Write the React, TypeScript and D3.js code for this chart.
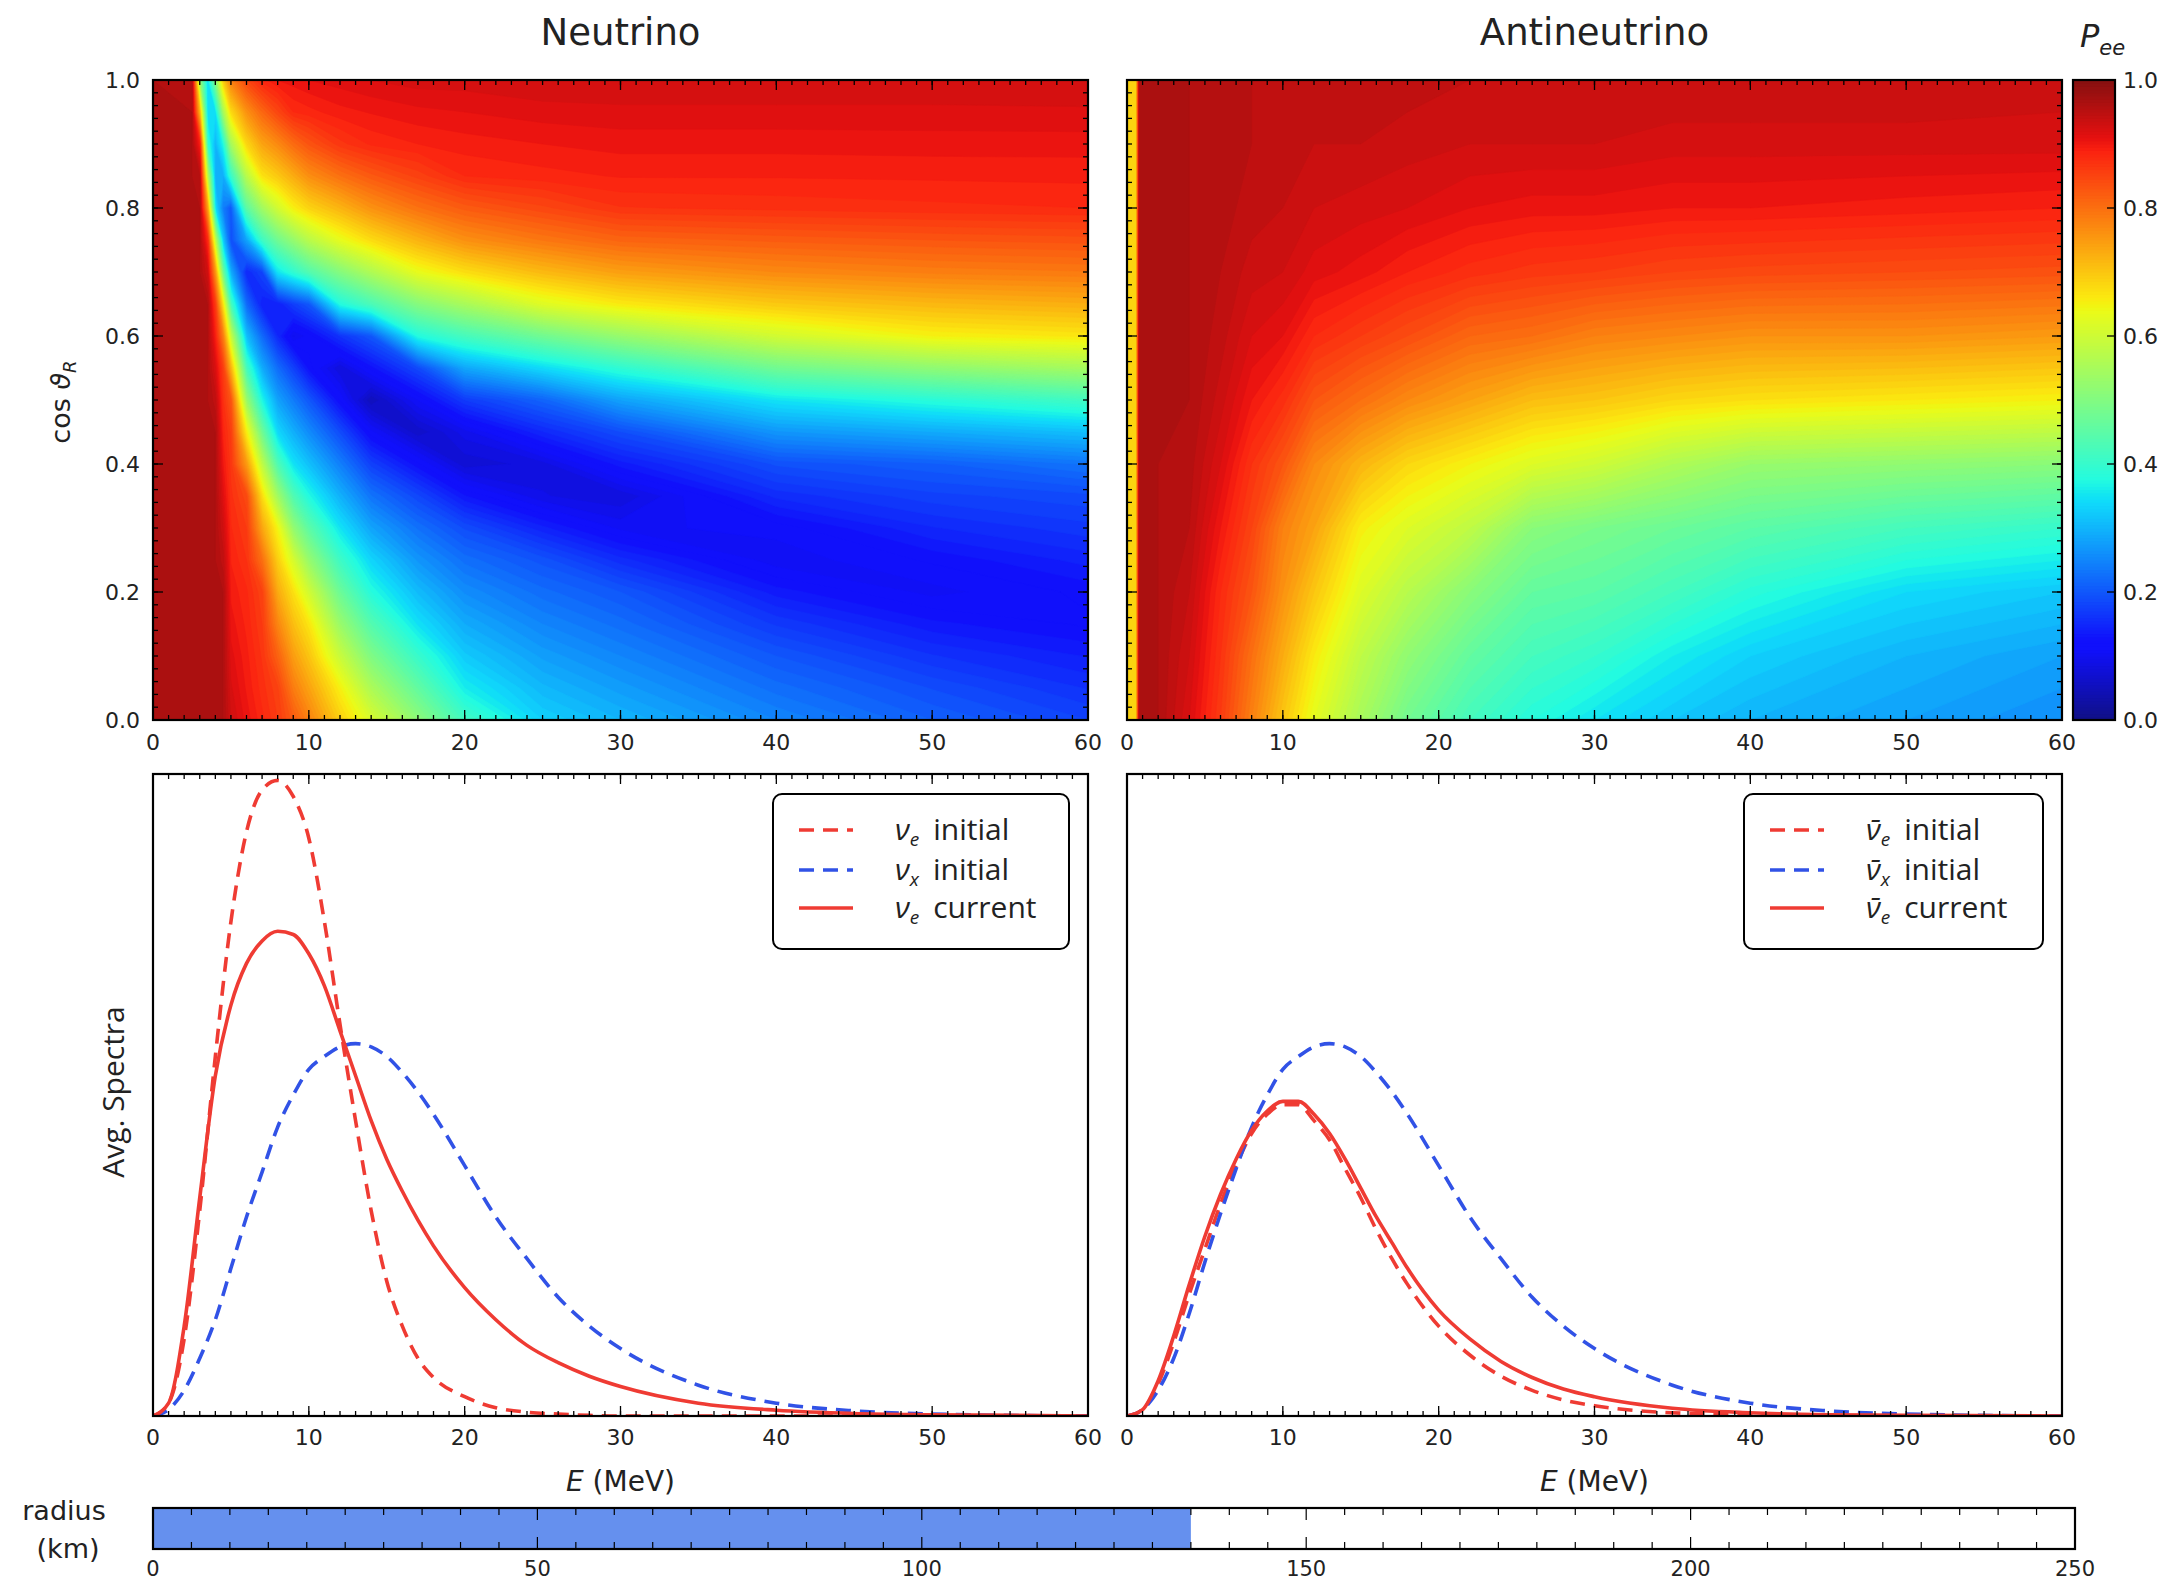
import React from "react";
import * as d3 from "d3";

const W = 2176;
const H = 1583;

const NU_E_COLS = [0, 2.5, 3, 3.5, 4, 4.5, 5, 6, 7, 8, 9, 10, 12, 14, 17, 20, 25, 30, 40, 50, 60];
const NU_COS_ROWS = [0, 0.05, 0.1, 0.15, 0.2, 0.25, 0.3, 0.35, 0.4, 0.45, 0.5, 0.55, 0.6, 0.65, 0.7, 0.75, 0.8, 0.85, 0.9, 0.95, 1.0];
// one profile per energy column, values from cos=0 up to cos=1
const NU_PEE = [
  [0.96, 0.96, 0.96, 0.96, 0.96, 0.96, 0.96, 0.96, 0.96, 0.96, 0.96, 0.96, 0.96, 0.96, 0.96, 0.96, 0.96, 0.96, 0.96, 0.96, 0.96],
  [0.96, 0.96, 0.96, 0.96, 0.96, 0.96, 0.96, 0.96, 0.96, 0.96, 0.96, 0.96, 0.96, 0.96, 0.96, 0.96, 0.96, 0.96, 0.96, 0.96, 0.955],
  [0.96, 0.96, 0.96, 0.96, 0.96, 0.96, 0.96, 0.96, 0.96, 0.96, 0.96, 0.96, 0.96, 0.96, 0.96, 0.96, 0.96, 0.95, 0.89, 0.71, 0.52],
  [0.96, 0.96, 0.96, 0.96, 0.96, 0.96, 0.96, 0.96, 0.96, 0.96, 0.96, 0.96, 0.96, 0.96, 0.93, 0.88, 0.74, 0.57, 0.4, 0.34, 0.34],
  [0.96, 0.96, 0.96, 0.96, 0.96, 0.96, 0.96, 0.96, 0.96, 0.96, 0.945, 0.92, 0.89, 0.857, 0.75, 0.58, 0.345, 0.29, 0.3, 0.34, 0.5],
  [0.96, 0.96, 0.96, 0.96, 0.96, 0.945, 0.93, 0.915, 0.9, 0.886, 0.871, 0.856, 0.78, 0.66, 0.47, 0.32, 0.24, 0.29, 0.37, 0.54, 0.69],
  [0.93, 0.922, 0.914, 0.905, 0.897, 0.889, 0.881, 0.873, 0.865, 0.857, 0.83, 0.72, 0.59, 0.42, 0.29, 0.19, 0.2, 0.4, 0.545, 0.675, 0.78],
  [0.906, 0.898, 0.893, 0.887, 0.882, 0.87, 0.86, 0.843, 0.75, 0.654, 0.53, 0.42, 0.31, 0.22, 0.15, 0.28, 0.45, 0.57, 0.68, 0.76, 0.847],
  [0.883, 0.875, 0.868, 0.86, 0.852, 0.8, 0.737, 0.673, 0.58, 0.476, 0.37, 0.29, 0.22, 0.14, 0.18, 0.41, 0.54, 0.667, 0.74, 0.81, 0.885],
  [0.86, 0.852, 0.816, 0.774, 0.732, 0.69, 0.646, 0.54, 0.433, 0.337, 0.28, 0.223, 0.15, 0.14, 0.35, 0.477, 0.604, 0.697, 0.77, 0.848, 0.9],
  [0.823, 0.785, 0.747, 0.709, 0.67, 0.61, 0.523, 0.435, 0.349, 0.294, 0.239, 0.176, 0.098, 0.173, 0.394, 0.525, 0.653, 0.73, 0.805, 0.88, 0.905],
  [0.779, 0.741, 0.702, 0.664, 0.603, 0.527, 0.451, 0.374, 0.312, 0.256, 0.2, 0.125, 0.114, 0.2, 0.438, 0.572, 0.684, 0.764, 0.832, 0.886, 0.91],
  [0.69, 0.652, 0.592, 0.531, 0.471, 0.41, 0.35, 0.296, 0.243, 0.187, 0.119, 0.081, 0.161, 0.376, 0.504, 0.632, 0.721, 0.799, 0.866, 0.896, 0.915],
  [0.614, 0.556, 0.497, 0.439, 0.38, 0.334, 0.282, 0.231, 0.175, 0.113, 0.05, 0.125, 0.2, 0.428, 0.559, 0.675, 0.76, 0.826, 0.882, 0.901, 0.92],
  [0.515, 0.458, 0.402, 0.347, 0.307, 0.267, 0.228, 0.182, 0.122, 0.062, 0.11, 0.185, 0.376, 0.505, 0.634, 0.723, 0.798, 0.854, 0.89, 0.907, 0.925],
  [0.416, 0.36, 0.323, 0.29, 0.258, 0.226, 0.188, 0.131, 0.073, 0.095, 0.17, 0.285, 0.421, 0.551, 0.672, 0.762, 0.824, 0.88, 0.895, 0.91, 0.925],
  [0.33, 0.303, 0.277, 0.25, 0.224, 0.195, 0.143, 0.091, 0.085, 0.149, 0.214, 0.34, 0.477, 0.622, 0.715, 0.791, 0.847, 0.886, 0.9, 0.915, 0.93],
  [0.3, 0.275, 0.25, 0.225, 0.2, 0.154, 0.107, 0.081, 0.135, 0.189, 0.28, 0.391, 0.527, 0.659, 0.745, 0.813, 0.869, 0.891, 0.904, 0.917, 0.93],
  [0.25, 0.225, 0.2, 0.168, 0.135, 0.103, 0.114, 0.153, 0.192, 0.267, 0.35, 0.477, 0.604, 0.697, 0.77, 0.823, 0.873, 0.891, 0.904, 0.917, 0.93],
  [0.21, 0.189, 0.161, 0.133, 0.106, 0.122, 0.149, 0.176, 0.208, 0.289, 0.383, 0.517, 0.65, 0.717, 0.783, 0.83, 0.877, 0.892, 0.905, 0.917, 0.93],
  [0.18, 0.159, 0.139, 0.118, 0.123, 0.144, 0.166, 0.187, 0.232, 0.311, 0.415, 0.546, 0.663, 0.728, 0.789, 0.835, 0.88, 0.893, 0.905, 0.918, 0.93],
];

const ANU_E_COLS = [0, 0.6, 0.8, 2, 4, 6, 8, 10, 12, 15, 18, 22, 26, 30, 35, 40, 50, 60];
const ANU_COS_ROWS = [0, 0.1, 0.2, 0.3, 0.4, 0.5, 0.6, 0.7, 0.8, 0.9, 1.0];
const ANU_PEE = [
  [0.68, 0.68, 0.68, 0.68, 0.68, 0.68, 0.68, 0.68, 0.68, 0.68, 0.68],
  [0.68, 0.68, 0.68, 0.68, 0.68, 0.68, 0.68, 0.68, 0.68, 0.68, 0.68],
  [0.96, 0.96, 0.96, 0.96, 0.96, 0.96, 0.96, 0.96, 0.96, 0.96, 0.96],
  [0.96, 0.96, 0.96, 0.96, 0.96, 0.96, 0.96, 0.96, 0.96, 0.96, 0.96],
  [0.92, 0.93, 0.94, 0.95, 0.955, 0.96, 0.96, 0.96, 0.96, 0.96, 0.96],
  [0.86, 0.87, 0.88, 0.9, 0.92, 0.935, 0.945, 0.95, 0.955, 0.955, 0.955],
  [0.78, 0.8, 0.83, 0.85, 0.87, 0.9, 0.92, 0.935, 0.945, 0.95, 0.95],
  [0.7, 0.73, 0.76, 0.78, 0.83, 0.875, 0.91, 0.93, 0.94, 0.945, 0.95],
  [0.63, 0.66, 0.7, 0.74, 0.77, 0.83, 0.88, 0.915, 0.93, 0.94, 0.95],
  [0.55, 0.58, 0.62, 0.655, 0.72, 0.8, 0.86, 0.905, 0.925, 0.94, 0.945],
  [0.48, 0.52, 0.57, 0.62, 0.68, 0.77, 0.84, 0.89, 0.92, 0.935, 0.945],
  [0.42, 0.46, 0.51, 0.58, 0.65, 0.74, 0.81, 0.875, 0.91, 0.93, 0.94],
  [0.38, 0.42, 0.46, 0.51, 0.62, 0.71, 0.8, 0.865, 0.905, 0.93, 0.94],
  [0.35, 0.4, 0.45, 0.49, 0.6, 0.7, 0.78, 0.86, 0.905, 0.93, 0.94],
  [0.32, 0.36, 0.42, 0.47, 0.56, 0.68, 0.77, 0.85, 0.9, 0.925, 0.94],
  [0.3, 0.33, 0.385, 0.45, 0.53, 0.67, 0.76, 0.845, 0.9, 0.925, 0.94],
  [0.28, 0.3, 0.34, 0.42, 0.52, 0.66, 0.76, 0.84, 0.895, 0.925, 0.94],
  [0.26, 0.28, 0.32, 0.4, 0.51, 0.65, 0.75, 0.835, 0.89, 0.925, 0.935],
];

// ---------- Spectra data (arbitrary units) ----------
const SPEC_E = [0, 1, 2, 3, 4, 5, 6, 7, 8, 9, 10, 11, 12, 13, 14, 15, 16, 17, 18, 20, 22, 24, 26, 28, 30, 35, 40, 45, 50, 60];
const NUE_INITIAL = [0, 0.02, 0.12, 0.32, 0.56, 0.77, 0.91, 0.975, 0.99, 0.965, 0.9, 0.77, 0.61, 0.46, 0.32, 0.21, 0.14, 0.09, 0.06, 0.03, 0.013, 0.006, 0.003, 0.001, 0, 0, 0, 0, 0, 0];
const NUX_INITIAL = [0, 0.01, 0.04, 0.09, 0.15, 0.23, 0.31, 0.38, 0.45, 0.5, 0.54, 0.56, 0.575, 0.58, 0.575, 0.56, 0.535, 0.505, 0.47, 0.39, 0.31, 0.245, 0.185, 0.14, 0.105, 0.048, 0.02, 0.008, 0.003, 0];
const NUE_CURRENT = [0, 0.02, 0.14, 0.34, 0.53, 0.64, 0.705, 0.74, 0.755, 0.75, 0.72, 0.67, 0.6, 0.53, 0.46, 0.4, 0.35, 0.305, 0.265, 0.2, 0.15, 0.11, 0.083, 0.062, 0.046, 0.02, 0.009, 0.004, 0.002, 0];
const ANUE_INITIAL = [0, 0.01, 0.05, 0.115, 0.19, 0.26, 0.33, 0.39, 0.44, 0.47, 0.485, 0.485, 0.46, 0.43, 0.385, 0.34, 0.29, 0.245, 0.205, 0.14, 0.095, 0.062, 0.04, 0.025, 0.016, 0.005, 0.002, 0, 0, 0];
const ANUX_INITIAL = [0, 0.01, 0.04, 0.09, 0.16, 0.24, 0.315, 0.385, 0.45, 0.5, 0.54, 0.56, 0.575, 0.58, 0.575, 0.56, 0.535, 0.505, 0.47, 0.39, 0.31, 0.245, 0.185, 0.14, 0.105, 0.048, 0.02, 0.008, 0.003, 0];
const ANUE_CURRENT = [0, 0.01, 0.055, 0.125, 0.205, 0.28, 0.345, 0.4, 0.445, 0.475, 0.49, 0.49, 0.47, 0.44, 0.4, 0.355, 0.31, 0.27, 0.23, 0.165, 0.12, 0.085, 0.06, 0.042, 0.03, 0.012, 0.005, 0.002, 0.001, 0];

// ---------- Ticks & misc ----------
const E_TICKS = [0, 10, 20, 30, 40, 50, 60];
const COS_TICKS = [0, 0.2, 0.4, 0.6, 0.8, 1.0];
const CBAR_TICKS = [0, 0.2, 0.4, 0.6, 0.8, 1.0];
const RADIUS_TICKS = [0, 50, 100, 150, 200, 250];
const RADIUS_CURRENT = 135;

// ---------- Layout ----------
const TOP = { y0: 80, y1: 720 };
const BOT = { y0: 774, y1: 1416 };
const LEFT = { x0: 153, x1: 1088 };
const RIGHT = { x0: 1127, x1: 2062 };
const CBAR = { x0: 2073, x1: 2115 };
const RBAR = { x0: 153, x1: 2075, y0: 1508, y1: 1549 };

const RED = "#ef3b33";
const BLUE = "#3152e6";
const TICK_FONT = "DejaVu Sans, Verdana, sans-serif";
const LEG_FONT = "Open Sans, Noto Sans, sans-serif";

// jet colormap
const jetR = d3.scaleLinear().domain([0, 0.35, 0.66, 0.89, 1]).range([0, 0, 1, 1, 0.5]).clamp(true);
const jetG = d3.scaleLinear().domain([0, 0.125, 0.375, 0.64, 0.91, 1]).range([0, 0, 1, 1, 0, 0]).clamp(true);
const jetB = d3.scaleLinear().domain([0, 0.11, 0.34, 0.65, 1]).range([0.5, 1, 1, 0, 0]).clamp(true);
function jet(v: number) {
  const f = (c: number) => Math.round(c * 255 * 0.92 + 16);
  return d3.rgb(f(jetR(v)), f(jetG(v)), f(jetB(v))).formatHex();
}

function Heatmap({ id, box, eCols, cosRows, profiles }: any) {
  const xs = d3.scaleLinear().domain([0, 60]).range([box.x0, box.x1]);
  const ys = d3.scaleLinear().domain([0, 1]).range([box.y1, box.y0]);
  const nx = eCols.length;
  const ny = cosRows.length;
  const values: number[] = new Array(nx * ny);
  for (let j = 0; j < ny; j++) for (let i = 0; i < nx; i++) values[j * nx + i] = profiles[i][j];
  const gx = d3.scaleLinear().domain(eCols.map((_: number, i: number) => i + 0.5)).range(eCols).clamp(true);
  const gy = d3.scaleLinear().domain(cosRows.map((_: number, j: number) => j + 0.5)).range(cosRows).clamp(true);
  const step = 1 / 100;
  const levels = d3.range(0, 1, step);
  const contours = d3.contours().size([nx, ny]).smooth(true).thresholds(levels)(values);
  const path = d3.geoPath(
    d3.geoTransform({
      point(x: number, y: number) {
        (this as any).stream.point(xs(gx(x)), ys(gy(y)));
      },
    })
  );
  return (
    <g>
      <defs>
        <clipPath id={id}>
          <rect x={box.x0} y={box.y0} width={box.x1 - box.x0} height={box.y1 - box.y0} />
        </clipPath>
      </defs>
      <g clipPath={`url(#${id})`}>
        {contours.map((c: any, k: number) => (
          <path key={k} d={path(c) || ""} fill={jet(c.value + step / 2)} stroke={jet(c.value + step / 2)} strokeWidth={0.6} />
        ))}
      </g>
    </g>
  );
}

function Ticks({ box, xDomain, yDomain, xMajor, xMinor, yMajor, yMinor, sides }: any) {
  const xs = d3.scaleLinear().domain(xDomain).range([box.x0, box.x1]);
  const out: any[] = [];
  const ML = 10, ml = 5;
  if (xMajor) {
    const mk = (v: number, len: number, key: string) => {
      const x = xs(v);
      if (sides.includes("b")) out.push(<line key={"b" + key} x1={x} x2={x} y1={box.y1} y2={box.y1 - len} />);
      if (sides.includes("t")) out.push(<line key={"t" + key} x1={x} x2={x} y1={box.y0} y2={box.y0 + len} />);
    };
    xMinor.forEach((v: number, i: number) => mk(v, ml, "xm" + i));
    xMajor.forEach((v: number, i: number) => mk(v, ML, "xM" + i));
  }
  if (yMajor) {
    const ys = d3.scaleLinear().domain(yDomain).range([box.y1, box.y0]);
    const mk = (v: number, len: number, key: string) => {
      const y = ys(v);
      if (sides.includes("l")) out.push(<line key={"l" + key} x1={box.x0} x2={box.x0 + len} y1={y} y2={y} />);
      if (sides.includes("r")) out.push(<line key={"r" + key} x1={box.x1} x2={box.x1 - len} y1={y} y2={y} />);
    };
    yMinor.forEach((v: number, i: number) => mk(v, ml, "ym" + i));
    yMajor.forEach((v: number, i: number) => mk(v, ML, "yM" + i));
  }
  return <g stroke="#000" strokeWidth={1.3}>{out}</g>;
}

function Frame({ box }: any) {
  return <rect x={box.x0} y={box.y0} width={box.x1 - box.x0} height={box.y1 - box.y0} fill="none" stroke="#000" strokeWidth={2.2} />;
}

function XLabels({ box, y }: any) {
  const xs = d3.scaleLinear().domain([0, 60]).range([box.x0, box.x1]);
  return (
    <g fontFamily={TICK_FONT} fontSize={22} fill="#222" textAnchor="middle">
      {E_TICKS.map((t) => (
        <text key={t} x={xs(t)} y={y}>{t}</text>
      ))}
    </g>
  );
}

function Spectra({ box, series, legend }: any) {
  const xs = d3.scaleLinear().domain([0, 60]).range([box.x0, box.x1]);
  const ys = d3.scaleLinear().domain([0, 1]).range([box.y1, box.y0]);
  const line = d3
    .line<number>()
    .x((_, i) => xs(SPEC_E[i]))
    .y((d) => ys(d))
    .curve(d3.curveMonotoneX);
  const lg = legend;
  const rowsY = [lg.y0 + 36, lg.y0 + 76, lg.y0 + 114];
  return (
    <g>
      <rect x={box.x0} y={box.y0} width={box.x1 - box.x0} height={box.y1 - box.y0} fill="#fff" />
      <defs>
        <clipPath id={"clip" + box.x0}>
          <rect x={box.x0} y={box.y0 - 2} width={box.x1 - box.x0} height={box.y1 - box.y0 + 2} />
        </clipPath>
      </defs>
      <g clipPath={`url(#clip${box.x0})`} fill="none" strokeWidth={3.6}>
        {series.map((s: any, k: number) => (
          <path key={k} d={line(s.values) || ""} stroke={s.color} strokeDasharray={s.dashed ? "15 9" : undefined} />
        ))}
      </g>
      <rect x={lg.x0} y={lg.y0} width={lg.x1 - lg.x0} height={lg.y1 - lg.y0} rx={9} fill="#fff" stroke="#000" strokeWidth={2} />
      {series.map((s: any, k: number) => (
        <g key={"lg" + k}>
          <line x1={lg.x0 + 26} x2={lg.x0 + 80} y1={rowsY[k]} y2={rowsY[k]} stroke={s.color} strokeWidth={3.6} strokeDasharray={s.dashed ? "15 9" : undefined} />
          <text x={lg.x0 + 122} y={rowsY[k] + 10} fontFamily={LEG_FONT} fontSize={30} fill="#222">
            <tspan fontStyle="italic">{s.sym}</tspan>
            <tspan fontStyle="italic" fontSize={19} dy={6}>{s.sub}</tspan>
            <tspan dy={-6} dx={14}>{s.label}</tspan>
          </text>
        </g>
      ))}
    </g>
  );
}

export default function App() {
  const cosMinor = d3.range(0, 1.0001, 0.02);
  const eMinor = d3.range(0, 61, 1);
  const ysTop = d3.scaleLinear().domain([0, 1]).range([TOP.y1, TOP.y0]);
  const cbarSteps = d3.range(0, 1, 1 / 200);
  const rx = d3.scaleLinear().domain([0, 250]).range([RBAR.x0, RBAR.x1]);

  const leftBox = { ...LEFT, ...TOP };
  const rightBox = { ...RIGHT, ...TOP };
  const leftBot = { ...LEFT, ...BOT };
  const rightBot = { ...RIGHT, ...BOT };
  const cbarBox = { ...CBAR, ...TOP };

  return (
    <svg width={W} height={H} viewBox={`0 0 ${W} ${H}`} style={{ position: "absolute", left: 0, top: 0, background: "#fff" }}>
      <rect x={0} y={0} width={W} height={H} fill="#fff" />
      {/* Titles */}
      <text x={(LEFT.x0 + LEFT.x1) / 2} y={45} textAnchor="middle" fontFamily={TICK_FONT} fontSize={37} fill="#222">Neutrino</text>
      <text x={(RIGHT.x0 + RIGHT.x1) / 2} y={45} textAnchor="middle" fontFamily={TICK_FONT} fontSize={37} fill="#222">Antineutrino</text>

      {/* Heatmaps */}
      <Heatmap id="hmL" box={leftBox} eCols={NU_E_COLS} cosRows={NU_COS_ROWS} profiles={NU_PEE} />
      <Heatmap id="hmR" box={rightBox} eCols={ANU_E_COLS} cosRows={ANU_COS_ROWS} profiles={ANU_PEE} />
      <Ticks box={leftBox} xDomain={[0, 60]} yDomain={[0, 1]} xMajor={E_TICKS} xMinor={eMinor} yMajor={COS_TICKS} yMinor={cosMinor} sides="tblr" />
      <Ticks box={rightBox} xDomain={[0, 60]} yDomain={[0, 1]} xMajor={E_TICKS} xMinor={eMinor} yMajor={COS_TICKS} yMinor={cosMinor} sides="tblr" />
      <Frame box={leftBox} />
      <Frame box={rightBox} />
      <XLabels box={leftBox} y={750} />
      <XLabels box={rightBox} y={750} />
      <g fontFamily={TICK_FONT} fontSize={22} fill="#222" textAnchor="end">
        {COS_TICKS.map((t) => (
          <text key={t} x={140} y={ysTop(t) + 8}>{t.toFixed(1)}</text>
        ))}
      </g>
      <text transform={`translate(70,402) rotate(-90)`} textAnchor="middle" fontFamily={TICK_FONT} fontSize={27} fill="#222">
        <tspan>cos </tspan>
        <tspan fontStyle="italic">ϑ</tspan>
        <tspan fontStyle="italic" fontSize={18} dy={6}>R</tspan>
      </text>

      {/* Colorbar */}
      <g>
        {cbarSteps.map((v, i) => (
          <rect key={i} x={CBAR.x0} width={CBAR.x1 - CBAR.x0} y={ysTop(v + 1 / 200) - 0.5} height={ysTop(v) - ysTop(v + 1 / 200) + 1} fill={jet(v + 1 / 400)} />
        ))}
        <Frame box={cbarBox} />
        <g stroke="#000" strokeWidth={1.3}>
          {CBAR_TICKS.map((t) => (
            <line key={t} x1={CBAR.x1} x2={CBAR.x1 - 8} y1={ysTop(t)} y2={ysTop(t)} />
          ))}
        </g>
        <g fontFamily={TICK_FONT} fontSize={22} fill="#222">
          {CBAR_TICKS.map((t) => (
            <text key={t} x={2123} y={ysTop(t) + 8}>{t.toFixed(1)}</text>
          ))}
        </g>
        <text x={2080} y={47} fontFamily={TICK_FONT} fontSize={32} fill="#222">
          <tspan fontStyle="italic">P</tspan>
          <tspan fontStyle="italic" fontSize={21} dy={8}>ee</tspan>
        </text>
      </g>

      {/* Spectra */}
      <Spectra
        box={leftBot}
        legend={{ x0: 773, x1: 1069, y0: 794, y1: 949 }}
        series={[
          { values: NUE_INITIAL, color: RED, dashed: true, sym: "ν", sub: "e", label: "initial" },
          { values: NUX_INITIAL, color: BLUE, dashed: true, sym: "ν", sub: "x", label: "initial" },
          { values: NUE_CURRENT, color: RED, dashed: false, sym: "ν", sub: "e", label: "current" },
        ]}
      />
      <Spectra
        box={rightBot}
        legend={{ x0: 1744, x1: 2043, y0: 794, y1: 949 }}
        series={[
          { values: ANUE_INITIAL, color: RED, dashed: true, sym: "ν\u0304", sub: "e", label: "initial" },
          { values: ANUX_INITIAL, color: BLUE, dashed: true, sym: "ν\u0304", sub: "x", label: "initial" },
          { values: ANUE_CURRENT, color: RED, dashed: false, sym: "ν\u0304", sub: "e", label: "current" },
        ]}
      />
      <Ticks box={leftBot} xDomain={[0, 60]} xMajor={E_TICKS} xMinor={eMinor} sides="tb" />
      <Ticks box={rightBot} xDomain={[0, 60]} xMajor={E_TICKS} xMinor={eMinor} sides="tb" />
      <Frame box={leftBot} />
      <Frame box={rightBot} />
      <XLabels box={leftBot} y={1445} />
      <XLabels box={rightBot} y={1445} />
      {[LEFT, RIGHT].map((b, i) => (
        <text key={i} x={(b.x0 + b.x1) / 2} y={1491} textAnchor="middle" fontFamily={TICK_FONT} fontSize={28} fill="#222">
          <tspan fontStyle="italic">E</tspan>
          <tspan> (MeV)</tspan>
        </text>
      ))}
      <text transform={`translate(124,1092) rotate(-90)`} textAnchor="middle" fontFamily={LEG_FONT} fontSize={30} fill="#222">Avg. Spectra</text>

      {/* Radius bar */}
      <rect x={RBAR.x0} y={RBAR.y0} width={rx(RADIUS_CURRENT) - RBAR.x0} height={RBAR.y1 - RBAR.y0} fill="#6590ee" />
      <g stroke="#000" strokeWidth={1.2}>
        {d3.range(0, 251, 5).map((v) => {
          const len = v % 50 === 0 ? 12 : 7;
          return (
            <g key={v}>
              <line x1={rx(v)} x2={rx(v)} y1={RBAR.y0} y2={RBAR.y0 + len} />
              <line x1={rx(v)} x2={rx(v)} y1={RBAR.y1} y2={RBAR.y1 - len} />
            </g>
          );
        })}
      </g>
      <Frame box={RBAR} />
      <g fontFamily={TICK_FONT} fontSize={21} fill="#222" textAnchor="middle">
        {RADIUS_TICKS.map((t) => (
          <text key={t} x={rx(t)} y={1576}>{t}</text>
        ))}
      </g>
      <text x={64} y={1520} textAnchor="middle" fontFamily={TICK_FONT} fontSize={27} fill="#222">radius</text>
      <text x={68} y={1558} textAnchor="middle" fontFamily={TICK_FONT} fontSize={27} fill="#222">(km)</text>
    </svg>
  );
}
